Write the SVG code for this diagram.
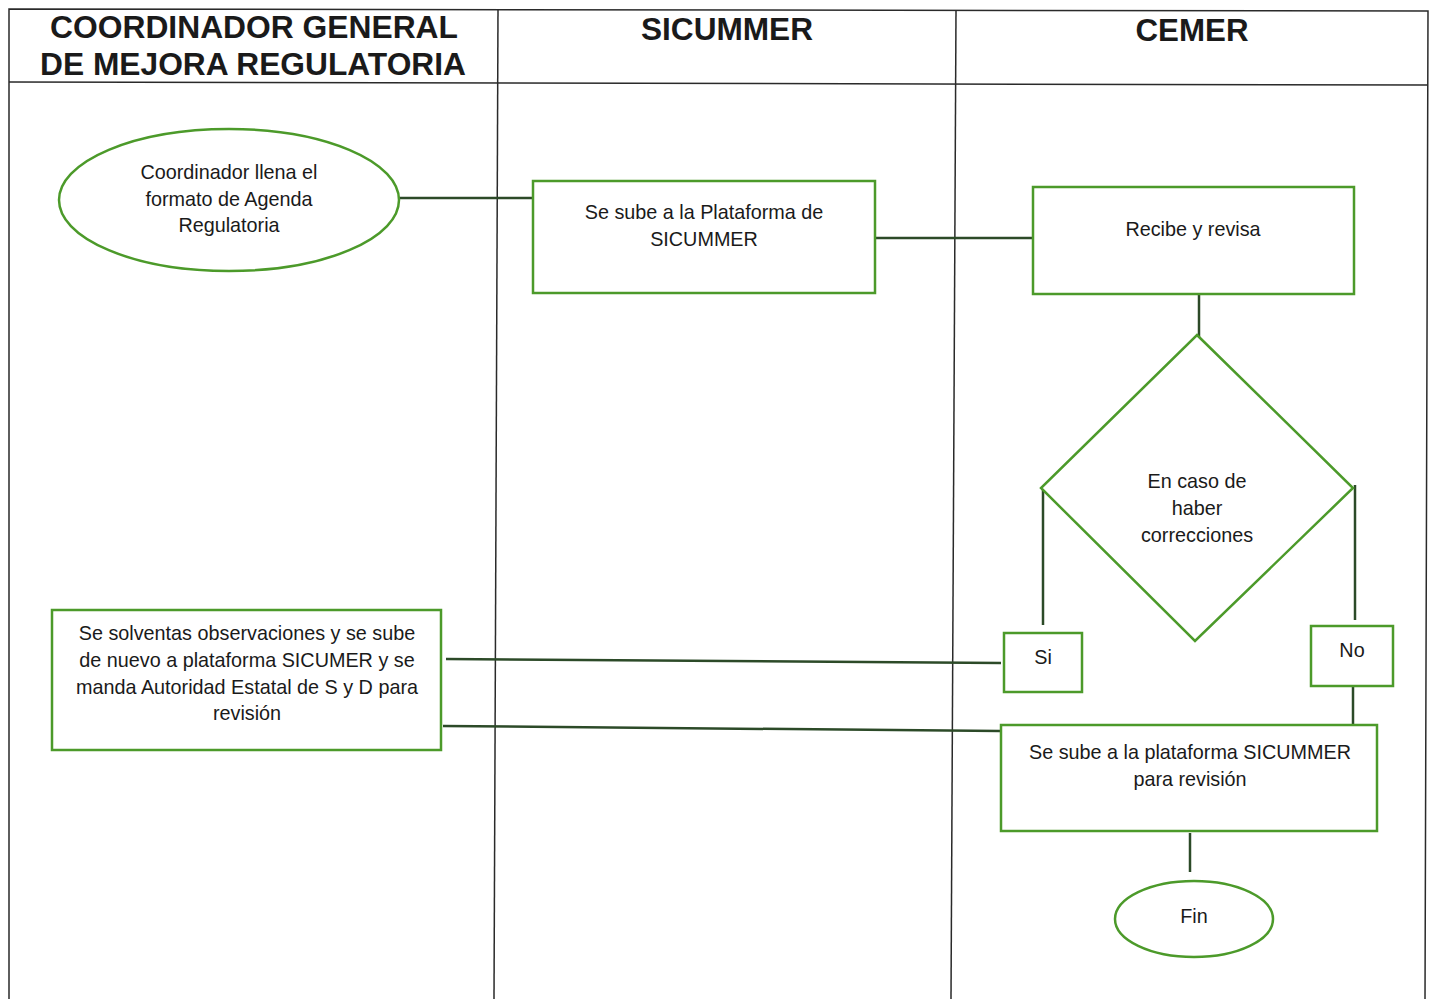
<svg xmlns="http://www.w3.org/2000/svg" width="1434" height="999" viewBox="0 0 1434 999">
<style>
.frame{stroke:#2a2a2a;stroke-width:1.5;fill:none}
.node{fill:#fff;stroke:#4c9a2a;stroke-width:2.5}
.conn{stroke:#2c4a28;stroke-width:2.5;fill:none}
.hdr{font-family:"Liberation Sans",Arial,sans-serif;font-weight:bold;font-size:32px;fill:#1a1a1a;text-anchor:middle}
.t{font-family:"Liberation Sans",Arial,sans-serif;font-size:19.8px;fill:#1a1a1a;text-anchor:middle}
</style>
<rect width="1434" height="999" fill="#fff"/>
<g id="frame">
<polyline class="frame" points="9,999 9,9 1428,11 1425,999"/>
<line class="frame" x1="9" y1="82" x2="1428" y2="85"/>
<line class="frame" x1="498" y1="9" x2="494" y2="999"/>
<line class="frame" x1="956" y1="10" x2="951" y2="999"/>
<text class="hdr" x="254" y="38" textLength="408" lengthAdjust="spacingAndGlyphs">COORDINADOR GENERAL</text>
<text class="hdr" x="253" y="75" textLength="426" lengthAdjust="spacingAndGlyphs">DE MEJORA REGULATORIA</text>
<text class="hdr" x="727" y="40" textLength="172" lengthAdjust="spacingAndGlyphs">SICUMMER</text>
<text class="hdr" x="1192" y="41" textLength="113" lengthAdjust="spacingAndGlyphs">CEMER</text>
</g>
<g id="connectors">
<line class="conn" x1="399" y1="198" x2="533" y2="198"/>
<line class="conn" x1="875" y1="238" x2="1033" y2="238"/>
<line class="conn" x1="1199" y1="294" x2="1199" y2="338"/>
<line class="conn" x1="1043" y1="488" x2="1043" y2="625"/>
<line class="conn" x1="1355" y1="485" x2="1355" y2="620"/>
<line class="conn" x1="1353" y1="687" x2="1353" y2="725"/>
<line class="conn" x1="1190" y1="833" x2="1190" y2="872"/>
<line class="conn" x1="446" y1="659" x2="1001" y2="663"/>
<line class="conn" x1="443" y1="726" x2="1000" y2="731"/>
</g>
<g id="n-start">
<ellipse class="node" cx="229" cy="200" rx="170" ry="71"/>
<text class="t" x="229" y="179">Coordinador llena el</text>
<text class="t" x="229" y="206">formato de Agenda</text>
<text class="t" x="229" y="232">Regulatoria</text>
</g>
<g id="n-sube">
<rect class="node" x="533" y="181" width="342" height="112"/>
<text class="t" x="704" y="219">Se sube a la Plataforma de</text>
<text class="t" x="704" y="246">SICUMMER</text>
</g>
<g id="n-recibe">
<rect class="node" x="1033" y="187" width="321" height="107"/>
<text class="t" x="1193" y="236">Recibe y revisa</text>
</g>
<g id="n-decision">
<polygon class="node" points="1197,335 1353,488 1195,641 1041,488"/>
<text class="t" x="1197" y="488">En caso de</text>
<text class="t" x="1197" y="515">haber</text>
<text class="t" x="1197" y="542">correcciones</text>
</g>
<g id="n-si">
<rect class="node" x="1004" y="633" width="78" height="59"/>
<text class="t" x="1043" y="664">Si</text>
</g>
<g id="n-no">
<rect class="node" x="1311" y="626" width="82" height="60"/>
<text class="t" x="1352" y="657">No</text>
</g>
<g id="n-solventa">
<rect class="node" x="52" y="610" width="389" height="140"/>
<text class="t" x="247" y="640">Se solventas observaciones y se sube</text>
<text class="t" x="247" y="667">de nuevo a plataforma SICUMER y se</text>
<text class="t" x="247" y="694">manda Autoridad Estatal de S y D para</text>
<text class="t" x="247" y="720">revisión</text>
</g>
<g id="n-revision">
<rect class="node" x="1001" y="725" width="376" height="106"/>
<text class="t" x="1190" y="759">Se sube a la plataforma SICUMMER</text>
<text class="t" x="1190" y="786">para revisión</text>
</g>
<g id="n-fin">
<ellipse class="node" cx="1194" cy="919" rx="79" ry="38"/>
<text class="t" x="1194" y="923">Fin</text>
</g>
</svg>
